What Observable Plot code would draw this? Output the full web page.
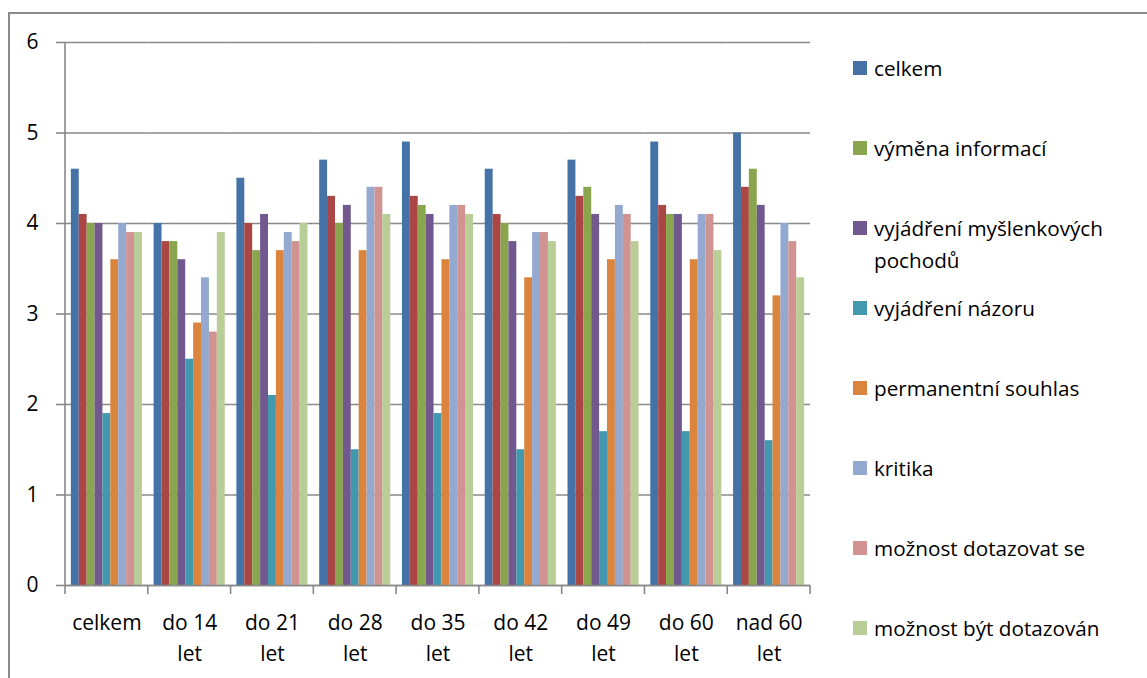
<!DOCTYPE html>
<html>
<head>
<meta charset="utf-8">
<script src="https://cdn.jsdelivr.net/npm/d3@7"></script>
<script src="https://cdn.jsdelivr.net/npm/@observablehq/plot@0.6"></script>
<style>
  html, body { margin: 0; padding: 0; background: #fff; }
  #wrap { position: relative; width: 1147px; height: 678px; overflow: hidden; font-family: "Open Sans", Lato, sans-serif; }
  #border { position: absolute; left: 8px; top: 12px; width: 1300px; height: 800px; border-left: 2px solid #8a8a8a; border-top: 2px solid #8a8a8a; }
  #chart { position: absolute; left: 0; top: 0; }
  #legend { position: absolute; left: 853px; top: 0; }
  .item { position: absolute; left: 0; width: 294px; display: flex; align-items: flex-start; font-size: 20.7px; line-height: 32px; color: #000; }
  .sw { width: 14px; height: 14px; margin-top: 9px; margin-right: 7px; flex: none; }
</style>
</head>
<body>
<div id="wrap">
  <div id="border"></div>
  <div id="chart"></div>
  <div id="legend"></div>
</div>
<script>
// Categories (age groups)
const categories = ["celkem", "do 14 let", "do 21 let", "do 28 let", "do 35 let", "do 42 let", "do 49 let", "do 60 let", "nad 60 let"];

// Series names (second series has no visible legend entry in the original)
const series = ["celkem", "(bez popisku)", "výměna informací", "vyjádření myšlenkových pochodů", "vyjádření názoru", "permanentní souhlas", "kritika", "možnost dotazovat se", "možnost být dotazován"];
const legendSeries = ["celkem", "výměna informací", "vyjádření myšlenkových pochodů", "vyjádření názoru", "permanentní souhlas", "kritika", "možnost dotazovat se", "možnost být dotazován"];

const colors = ["#4572A7", "#AA4643", "#89A54E", "#71588F", "#4198AF", "#DB843D", "#93A9CF", "#D19392", "#B9CD96"];

// Values per series, in category order
const sCelkem      = [4.6, 4.0, 4.5, 4.7, 4.9, 4.6, 4.7, 4.9, 5.0];
const sBezPopisku  = [4.1, 3.8, 4.0, 4.3, 4.3, 4.1, 4.3, 4.2, 4.4];
const sVymena      = [4.0, 3.8, 3.7, 4.0, 4.2, 4.0, 4.4, 4.1, 4.6];
const sMyslenky    = [4.0, 3.6, 4.1, 4.2, 4.1, 3.8, 4.1, 4.1, 4.2];
const sNazor       = [1.9, 2.5, 2.1, 1.5, 1.9, 1.5, 1.7, 1.7, 1.6];
const sSouhlas     = [3.6, 2.9, 3.7, 3.7, 3.6, 3.4, 3.6, 3.6, 3.2];
const sKritika     = [4.0, 3.4, 3.9, 4.4, 4.2, 3.9, 4.2, 4.1, 4.0];
const sDotazovat   = [3.9, 2.8, 3.8, 4.4, 4.2, 3.9, 4.1, 4.1, 3.8];
const sDotazovan   = [3.9, 3.9, 4.0, 4.1, 4.1, 3.8, 3.8, 3.7, 3.4];

const yTicks = [0, 1, 2, 3, 4, 5, 6];

const valueLists = [sCelkem, sBezPopisku, sVymena, sMyslenky, sNazor, sSouhlas, sKritika, sDotazovat, sDotazovan];
const data = [];
categories.forEach((c, ci) => {
  series.forEach((s, si) => data.push({category: c, series: s, value: valueLists[si][ci]}));
});

const W = 830, H = 678;
const plot = Plot.plot({
  width: W,
  height: H,
  marginLeft: 65,
  marginRight: 20,
  marginTop: 42,
  marginBottom: 93,
  style: {fontFamily: "'Open Sans', Lato, sans-serif", fontSize: "21px", color: "#000", background: "transparent"},
  fx: {domain: categories, padding: 0, round: false, label: null},
  x: {domain: series, paddingInner: 0, paddingOuter: 0.74, round: false, axis: null},
  y: {domain: [0, 6], label: null},
  color: {domain: series, range: colors},
  marks: [
    Plot.gridY(yTicks, {stroke: "#888", strokeOpacity: 1, strokeWidth: 1.6}),
    Plot.barY(data, {fx: "category", x: "series", y: "value", fill: "series", inset: 0}),
    Plot.axisY(yTicks, {tickSize: 9, tickPadding: 18, stroke: "#888", strokeWidth: 1.6, fontSize: 21, label: null, tickFormat: d => String(d)}),
    Plot.axisFx({anchor: "bottom", tickSize: 0, tickPadding: 22, fontSize: 21, lineHeight: 1.5, label: null,
      tickFormat: d => d.replace(" let", "\nlet")}),
    Plot.ruleY([0], {stroke: "#888", strokeWidth: 1.6})
  ]
});
document.getElementById("chart").appendChild(plot);

// Category boundary tick marks below the axis, positioned with the plot's own scales
const fx = plot.scale("fx");
const yScale = plot.scale("y");
const svg = d3.select(plot.tagName === "svg" ? plot : plot.querySelector("svg"));
const bounds = categories.map(c => fx.apply(c));
bounds.push(fx.apply(categories[categories.length - 1]) + fx.bandwidth);
const y0 = yScale.apply(0);
svg.append("g").selectAll("line").data(bounds).join("line")
  .attr("x1", d => d).attr("x2", d => d)
  .attr("y1", y0).attr("y2", y0 + 9)
  .attr("stroke", "#888").attr("stroke-width", 1.6);
// left vertical axis line
svg.append("line")
  .attr("x1", fx.apply(categories[0])).attr("x2", fx.apply(categories[0]))
  .attr("y1", yScale.apply(6)).attr("y2", y0)
  .attr("stroke", "#888").attr("stroke-width", 1.6);

// Legend
const legend = d3.select("#legend");
legendSeries.forEach((name, i) => {
  const item = legend.append("div").attr("class", "item").style("top", (52 + i * 80) + "px");
  item.append("div").attr("class", "sw").style("background", colors[series.indexOf(name)]);
  item.append("div").text(name);
});
</script>
</body>
</html>
